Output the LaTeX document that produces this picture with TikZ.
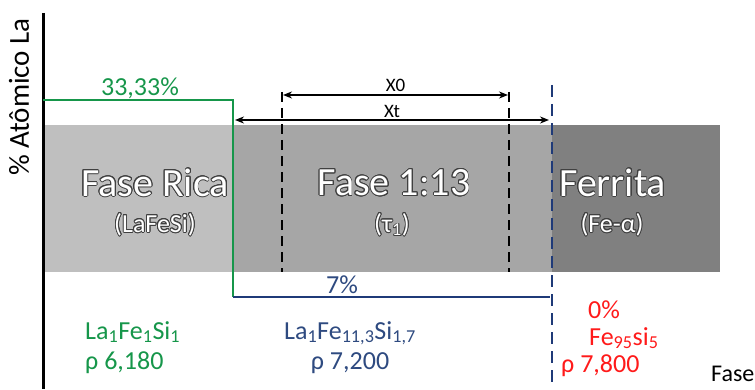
\documentclass[tikz,border=0pt]{standalone}
\usepackage{fontspec}
\setmainfont{Carlito}
\usepackage{contour}
\usepackage{tikz}
\usetikzlibrary{arrows.meta, positioning, calc}
\definecolor{phRica}{HTML}{BFBFBF}
\definecolor{phTau}{HTML}{A6A6A6}
\definecolor{phFe}{HTML}{808080}
\definecolor{phGreen}{HTML}{16964A}
\definecolor{phBlue}{HTML}{1F3A78}
\definecolor{phBlueTxt}{HTML}{2E4A80}
\definecolor{phRed}{HTML}{FF1A1A}
\definecolor{phEdge}{HTML}{404040}
\contourlength{0.9pt}
% white letters with a dark rim
\newcommand{\phtxt}[1]{\contour{phEdge}{\textcolor{white}{#1}}}
\tikzset{
  band/.style={draw=none, inner sep=0pt, anchor=south west, minimum height=147pt},
  phname/.style={font=\fontsize{40}{44}\selectfont, inner sep=0pt},
  phform/.style={font=\fontsize{26}{30}\selectfont, inner sep=0pt},
  lbl/.style={font=\fontsize{26}{30}\selectfont, inner sep=0pt, align=left},
  dimlbl/.style={font=\fontsize{19}{22}\selectfont, inner sep=1pt},
  axisline/.style={line width=3pt, black},
  greenline/.style={line width=2.8pt, phGreen},
  blueline/.style={line width=2.8pt, phBlue},
  bluedash/.style={line width=2.6pt, phBlue, dash pattern=on 12pt off 7pt},
  blackdash/.style={line width=2.6pt, black, dash pattern=on 10pt off 6pt},
  dimarrow/.style={{Stealth[length=9pt,width=7pt]}-{Stealth[length=9pt,width=7pt]}, line width=2.2pt, black}
}

\begin{document}
\begin{tikzpicture}[x=1pt, y=1pt]
  \clip (0,0) rectangle (755,389);
  \useasboundingbox (0,0) rectangle (755,389);
  % phase bands
  \node[band, fill=phRica, minimum width=190pt] (rica) at (43,117) {};
  \node[band, fill=phTau, minimum width=319pt] (tau) at (233,117) {};
  \node[band, fill=phFe, minimum width=168pt] (ferr) at (552,117) {};
  \node[phname] (ricaname) at (155,206) {\phtxt{Fase Rica}};
  \node[phform] (ricaform) at (155,164) {\phtxt{(LaFeSi)}};
  \node[phname] (tauname) at (394,206) {\phtxt{Fase 1:13}};
  \node[phform] (tauform) at (392,164) {\phtxt{(τ\textsubscript{1})}};
  \node[phname, anchor=west] (ferrname) at (559,206) {\phtxt{Ferrita}};
  \node[phform] (ferrform) at (612,164) {\phtxt{(Fe-α)}};
  % axis
  \coordinate (axtop) at (43,376);
  \coordinate (axbot) at (43,0);
  \draw[axisline] (axtop) -- (axbot);
  \node[font=\fontsize{29}{32}\selectfont, rotate=90] (ylab) at (19,292) {\% Atômico La};
  \node[font=\fontsize{24}{28}\selectfont, anchor=west, inner sep=0pt] (xlab) at (711,15) {Fase};
  % composition lines
  \coordinate (g0) at (43,289);
  \coordinate (g1) at (233,92);
  \coordinate (b1) at (550,92);
  \draw[greenline] (g0) -| (g1);
  \draw[blueline] (g1) -- (b1);
  \node[lbl, text=phGreen] (p33) at (140,301) {33,33\%};
  \node[lbl, text=phBlueTxt] (p7) at (342,104) {7\%};
  \coordinate (bdt) at (552,304);
  \coordinate (bdb) at (552,0);
  \draw[bluedash] (bdt) -- (bdb);
  % X0 and Xt
  \coordinate (d1t) at (282,297);
  \coordinate (d1b) at (282,117);
  \coordinate (d2t) at (509,297);
  \coordinate (d2b) at (509,117);
  \draw[blackdash] (d1t) -- (d1b);
  \draw[blackdash] (d2t) -- (d2b);
  \coordinate (x0a) at (283,294);
  \coordinate (x0b) at (508,294);
  \coordinate (xta) at (235,269);
  \coordinate (xtb) at (549,269);
  \draw[dimarrow] (x0a) -- node[dimlbl, above=1pt] (x0lbl) {X0} (x0b);
  \draw[dimarrow] (xta) -- node[dimlbl, above=0pt] (xtlbl) {Xt} (xtb);
  % formulas
  \node[lbl, text=phGreen, anchor=north west] (fRica) at (85,68) {La\textsubscript{1}Fe\textsubscript{1}Si\textsubscript{1}\\ρ 6,180};
  \node[lbl, text=phBlueTxt, align=center, anchor=north] (fTau) at (350,68) {La\textsubscript{1}Fe\textsubscript{11,3}Si\textsubscript{1,7}\\ρ 7,200};
  \node[lbl, text=phRed, anchor=west] (p0) at (588,79) {0\%};
  \node[lbl, text=phRed, anchor=west] (fFe) at (589,51) {Fe\textsubscript{95}si\textsubscript{5}};
  \node[lbl, text=phRed, anchor=west] (rFe) at (561,23) {ρ 7,800};
\end{tikzpicture}
\end{document}
